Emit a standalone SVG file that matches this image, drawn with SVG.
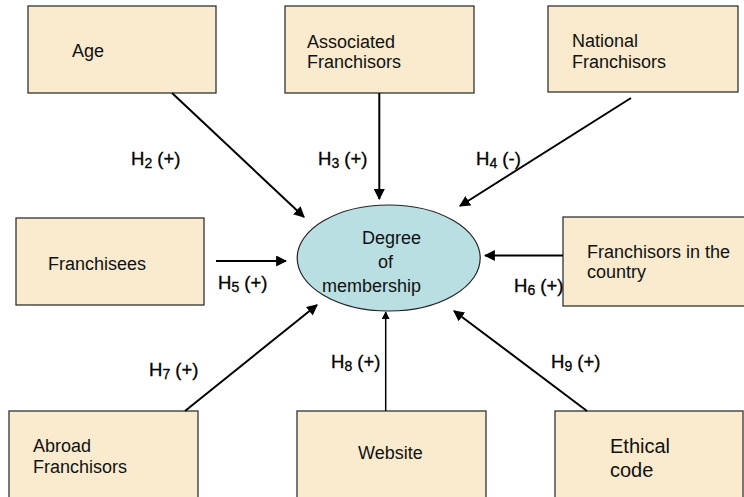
<svg xmlns="http://www.w3.org/2000/svg" width="744" height="497" viewBox="0 0 744 497">
<style>
.box{fill:#FAEBCF;stroke:#333;stroke-width:1.3}
.t{font-family:"Liberation Sans",Arial,sans-serif;font-size:18px;fill:#111}
.lbl{font-family:"Liberation Sans",Arial,sans-serif;font-size:18.5px;fill:#000;stroke:#000;stroke-width:0.3}
.sub{font-size:14px}
.c{stroke:#000;stroke-width:2;fill:none;marker-end:url(#ah)}
</style>
<defs>
<marker id="ah" viewBox="0 0 10 10" refX="9" refY="5" markerWidth="5.5" markerHeight="5.5" orient="auto" markerUnits="strokeWidth">
<path d="M0,0 L10,5 L0,10 z" fill="#000"/>
</marker>
</defs>
<rect width="744" height="497" fill="#fff"/>
<g id="node-age"><rect class="box" x="28" y="6" width="188" height="87"/><text class="t" x="72" y="57">Age</text></g>
<g id="node-associated"><rect class="box" x="285" y="6" width="189" height="87"/><text class="t" x="307" y="48">Associated</text><text class="t" x="307" y="68">Franchisors</text></g>
<g id="node-national"><rect class="box" x="548" y="6" width="190" height="86"/><text class="t" x="572" y="47">National</text><text class="t" x="572" y="68">Franchisors</text></g>
<g id="node-franchisees"><rect class="box" x="16" y="218" width="188" height="87"/><text class="t" x="48" y="270">Franchisees</text></g>
<g id="node-country"><rect class="box" x="563" y="217" width="190" height="89"/><text class="t" x="587" y="258">Franchisors in the</text><text class="t" x="587" y="278">country</text></g>
<g id="node-abroad"><rect class="box" x="9" y="411" width="189" height="95"/><text class="t" x="33" y="452">Abroad</text><text class="t" x="33" y="473">Franchisors</text></g>
<g id="node-website"><rect class="box" x="297" y="411" width="189" height="95"/><text class="t" x="358" y="459">Website</text></g>
<g id="node-ethical"><rect class="box" x="555" y="411" width="188" height="95"/><text class="t" x="610" y="453" style="font-size:20px">Ethical</text><text class="t" x="610" y="477" style="font-size:20px">code</text></g>
<g id="node-degree"><ellipse cx="388.7" cy="258" rx="91.5" ry="53" fill="#B9DFE3" stroke="#222" stroke-width="1.2"/><text class="t" x="362" y="244">Degree</text><text class="t" x="378" y="268">of</text><text class="t" x="322" y="292">membership</text></g>
<g id="connectors">
<line class="c" x1="172" y1="93" x2="304" y2="217"/>
<line class="c" x1="379.3" y1="93" x2="379.3" y2="199"/>
<line class="c" x1="631" y1="98" x2="460" y2="206"/>
<line class="c" x1="216" y1="261" x2="286" y2="261"/>
<line class="c" x1="563" y1="255.5" x2="485" y2="255.5"/>
<line class="c" x1="185" y1="411" x2="317" y2="305"/>
<line class="c" x1="385.7" y1="411" x2="385.7" y2="312" style="stroke-width:1.5"/>
<line class="c" x1="587" y1="411" x2="454" y2="311"/>
</g>
<g id="labels">
<text class="lbl" x="131" y="165">H<tspan class="sub" dy="3">2</tspan><tspan dy="-3"> (+)</tspan></text>
<text class="lbl" x="318" y="165">H<tspan class="sub" dy="3">3</tspan><tspan dy="-3"> (+)</tspan></text>
<text class="lbl" x="476" y="165">H<tspan class="sub" dy="3">4</tspan><tspan dy="-3"> (-)</tspan></text>
<text class="lbl" x="218" y="289">H<tspan class="sub" dy="3">5</tspan><tspan dy="-3"> (+)</tspan></text>
<text class="lbl" x="514" y="292">H<tspan class="sub" dy="3">6</tspan><tspan dy="-3"> (+)</tspan></text>
<text class="lbl" x="149" y="376">H<tspan class="sub" dy="3">7</tspan><tspan dy="-3"> (+)</tspan></text>
<text class="lbl" x="331" y="368">H<tspan class="sub" dy="3">8</tspan><tspan dy="-3"> (+)</tspan></text>
<text class="lbl" x="551" y="368">H<tspan class="sub" dy="3">9</tspan><tspan dy="-3"> (+)</tspan></text>
</g>
</svg>
